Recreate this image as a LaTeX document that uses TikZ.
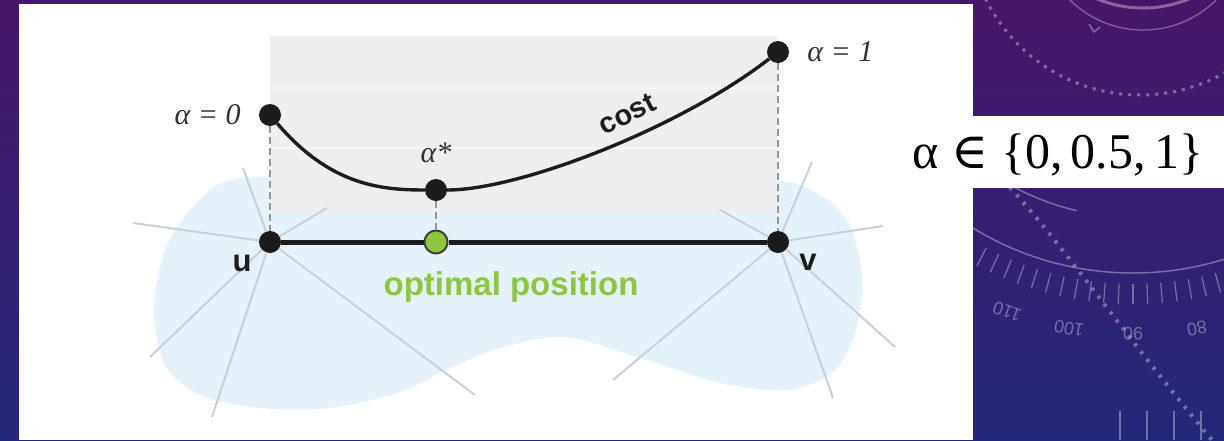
\documentclass[tikz,border=0pt]{standalone}
\usepackage{fontspec}
\setmainfont{Liberation Serif}
\newfontfamily\sansfont{Liberation Sans}
\newfontfamily\symbfont{DejaVu Serif}
\usetikzlibrary{positioning}

\definecolor{bgtop}{RGB}{70,22,106}
\definecolor{bgbottom}{RGB}{36,40,122}
\definecolor{panelgray}{RGB}{238,238,238}
\definecolor{blobblue}{RGB}{229,242,250}
\definecolor{spokegray}{RGB}{200,208,216}
\definecolor{dashgray}{RGB}{150,150,150}
\definecolor{optgreen}{RGB}{141,198,63}
\definecolor{inkblack}{RGB}{28,28,28}

\begin{document}
\begin{tikzpicture}[x=1pt, y=-1pt,
    dot/.style={circle, fill=inkblack, minimum size=22pt, inner sep=0pt},
    optdot/.style={circle, fill=optgreen, draw=inkblack!85, line width=2pt, minimum size=23pt, inner sep=0pt},
    alphalbl/.style={font=\fontsize{30}{32}\selectfont\itshape, text=black!80, inner sep=0pt},
    endlbl/.style={font=\fontsize{31}{34}\selectfont\sansfont\bfseries, text=inkblack, inner sep=0pt},
    spoke/.style={spokegray, line width=2pt},
    drop/.style={dashgray, line width=2pt, dash pattern=on 7pt off 4pt},
    deco/.style={white, opacity=0.35}]

  % slide background, fixes the page size
  \shade[top color=bgtop, bottom color=bgbottom] (0,0) rectangle (1224,440);
  \useasboundingbox (0,0) rectangle (1224,440);

  % dial drawn on the slide background (right side)
  \begin{scope}
    \clip (973,0) rectangle (1224,440);
    \draw[deco, line width=1.2pt] (1143,-74) circle (104);
    \draw[deco, line width=3pt] (1143,-112) circle (120);
    \draw[deco, line width=3pt, dash pattern=on 3pt off 6pt] (1140,-77) circle (172);
    \draw[deco, line width=1.5pt] (1089,24) -- (1094,32) -- (1100,27);
    \draw[deco, line width=1.5pt] (1133,-34) circle (307);
    \draw[deco, line width=1.5pt] ([shift={(1133,-34)}]118:251) arc[start angle=118, end angle=103, radius=251];
    \foreach \a in {72.5,75,...,117.5}
      \draw[deco, line width=1.2pt] ([shift={(1133,-34)}]\a:318) -- ([shift={(1133,-34)}]\a:338);
    \foreach \a in {110,100,90,80}
      \node[deco, text opacity=0.35, font=\fontsize{18}{20}\selectfont\sansfont, rotate=270-\a] (dial\a) at ([shift={(1133,-34)}]\a:368) {\a};
    \draw[deco, line width=4pt, dash pattern=on 3pt off 7pt] (1003,180) .. controls (1060,240) and (1120,330) .. (1212,440);
    \foreach \x in {1120,1147,1174,1201}
      \draw[deco, line width=1.5pt] (\x,411) -- (\x,440);
  \end{scope}

  % white figure panel and the band behind the formula
  \fill[white] (19,4) rectangle (973,440);
  \fill[white] (973,116) rectangle (1224,188);

  % light blue region round the edge
  \fill[blobblue] plot[smooth cycle] coordinates {(240,178) (195,205) (165,250) (154,310) (165,365) (200,395) (260,408) (330,408) (400,392) (450,368) (500,348) (565,337) (640,358) (720,383) (790,390) (835,370) (856,330) (862,275) (848,222) (815,192) (770,180) (600,178) (400,178)};

  % gray band behind the cost curve
  \fill[panelgray] (270,36) rectangle (777,211);
  \draw[white!55!panelgray, line width=2pt] (270,88) -- (777,88);
  \draw[white!55!panelgray, line width=2pt] (270,148) -- (777,148);

  % vertices, optimal point and cost samples
  \node[dot] (u) at (270,242) {};
  \node[dot] (v) at (778,242) {};
  \node[optdot] (opt) at (436,242) {};
  \node[dot] (a0) at (270,115) {};
  \node[dot] (astar) at (436,190) {};
  \node[dot] (a1) at (778,52) {};

  % neighbouring edges (free ends)
  \coordinate (u1) at (133,223);
  \coordinate (u2) at (243,168);
  \coordinate (u3) at (327,208);
  \coordinate (u4) at (150,357);
  \coordinate (u5) at (212,417);
  \coordinate (u6) at (475,395);
  \coordinate (v1) at (720,210);
  \coordinate (v2) at (812,162);
  \coordinate (v3) at (883,226);
  \coordinate (v4) at (895,347);
  \coordinate (v5) at (833,398);
  \coordinate (v6) at (613,380);
  \foreach \s in {1,...,6} {
    \draw[spoke] (u) -- (u\s);
    \draw[spoke] (v) -- (v\s);
  }

  % dashed drops onto the edge
  \draw[drop] (a0) -- (u);
  \draw[drop] (astar) -- (opt);
  \draw[drop] (a1) -- (v);

  % the edge u-v
  \draw[inkblack, line width=5pt] (u) -- (opt);
  \draw[inkblack, line width=5pt] (opt) -- (v);

  % cost curve
  \draw[inkblack, line width=3.4pt] (a0) .. controls (330,185) and (380,190) .. (astar);
  \draw[inkblack, line width=3.4pt] (astar) .. controls (520,190) and (680,128) .. (a1);

  % labels
  \node[alphalbl, left=18pt of a0] (a0lbl) {α = 0};
  \node[alphalbl, right=18pt of a1] (a1lbl) {α = 1};
  \node[alphalbl, above=16pt of astar] (astarlbl) {α*};
  \node[endlbl] (ulbl) at (242,263) {u};
  \node[endlbl] (vlbl) at (808,262) {v};
  \node[font=\fontsize{29}{30}\selectfont\sansfont\bfseries, text=inkblack, rotate=27] (costlbl) at (627,114) {cost};
  \node[font=\fontsize{33}{36}\selectfont\sansfont\bfseries, text=optgreen] (optlbl) at (511,287) {optimal position};

  % value set of alpha
  \node[font=\fontsize{50}{52}\selectfont, text=black] (alphaset) at (1058,155) {α {\symbfont∈} \{0,\,0.5,\,1\}};
\end{tikzpicture}
\end{document}
